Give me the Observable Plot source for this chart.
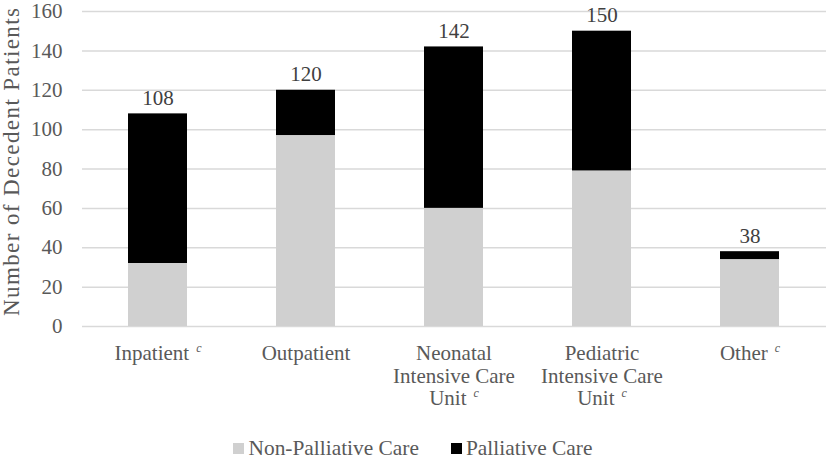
<!DOCTYPE html>
<html>
<head>
<meta charset="utf-8">
<script src="https://cdn.jsdelivr.net/npm/d3@7"></script>
<script src="https://cdn.jsdelivr.net/npm/@observablehq/plot@0.6"></script>
<style>
  html, body { margin: 0; padding: 0; background: #fff; }
  body { width: 826px; height: 459px; overflow: hidden; font-family: "Liberation Serif", "Times New Roman", serif; }
  #chart svg { display: block; }
  #legend { display: flex; justify-content: center; align-items: center; height: 21px; font-size: 21.4px; color: #595959; line-height: 21px; }
  .item { display: flex; align-items: center; }
  .sw { width: 11px; height: 11px; margin-right: 4px; }
</style>
</head>
<body>
<div id="chart"></div>
<div id="legend"></div>
<script>
const categories = ["Inpatient", "Outpatient", "Neonatal Intensive Care Unit", "Pediatric Intensive Care Unit", "Other"];
const categoryLabels = ["Inpatient", "Outpatient", "Neonatal\nIntensive Care\nUnit", "Pediatric\nIntensive Care\nUnit", "Other"];
const footnoteC = [true, false, true, true, true];
const seriesNames = ["Non-Palliative Care", "Palliative Care"];
const seriesColors = ["#d0d0d0", "#000000"];
const nonPalliative = [32, 97, 60, 79, 34];
const palliative = [76, 23, 82, 71, 4];
const totals = [108, 120, 142, 150, 38];
const yTicks = [0, 20, 40, 60, 80, 100, 120, 140, 160];
const yTitle = "Number of Decedent Patients";

const data = [];
seriesNames.forEach((s, si) => {
  const vals = si === 0 ? nonPalliative : palliative;
  categories.forEach((c, i) => data.push({category: c, series: s, value: vals[i]}));
});
const totalData = categories.map((c, i) => ({category: c, total: totals[i]}));
const labelOf = new Map(categories.map((c, i) => [c, categoryLabels[i]]));

const font = '"Liberation Serif", "Times New Roman", serif';
const chart = Plot.plot({
  width: 826,
  height: 438,
  marginLeft: 82,
  marginRight: 0,
  marginTop: 11,
  marginBottom: 112,
  style: {fontFamily: font, fontSize: "21px", color: "#595959", background: "#fff"},
  x: {domain: categories, paddingInner: 0.6, paddingOuter: 0.3, axis: null},
  y: {domain: [0, 160], axis: null},
  color: {domain: seriesNames, range: seriesColors},
  marks: [
    Plot.gridY(yTicks, {stroke: "#d9d9d9", strokeOpacity: 1, strokeWidth: 1.5}),
    Plot.barY(data, {x: "category", y: "value", fill: "series", order: seriesNames}),
    Plot.axisY({ticks: yTicks, tickSize: 0, tickPadding: 20, fontSize: 21, label: null, fill: "#595959"}),
    Plot.text(categories, {x: d => d, text: d => labelOf.get(d), frameAnchor: "bottom", lineAnchor: "top", dy: 18, lineHeight: 1.07, fontSize: 21, fill: "#595959"}),
    Plot.text(totalData, {x: "category", y: "total", text: d => String(d.total), lineAnchor: "bottom", dy: -9, fontSize: 21, fill: "#404040"}),
    Plot.text([yTitle], {frameAnchor: "left", textAnchor: "middle", text: d => d, rotate: -90, dx: -71, dy: -7, fontSize: 23, fill: "#595959"})
  ]
});
document.getElementById("chart").appendChild(chart);

// Title spacing to match the reference length
chart.querySelectorAll("text").forEach(t => {
  if (t.textContent === yTitle) {
    t.setAttribute("textLength", "308");
    t.setAttribute("lengthAdjust", "spacing");
  }
});

// Add italic superscript footnote "c" to the last line of marked category labels
const lastLines = new Set(categoryLabels.filter((l, i) => footnoteC[i]).map(l => l.split("\n").pop()));
chart.querySelectorAll("text").forEach(t => {
  const spans = t.querySelectorAll("tspan");
  const target = spans.length ? spans[spans.length - 1] : t;
  if (lastLines.has(target.textContent)) {
    const sup = document.createElementNS("http://www.w3.org/2000/svg", "tspan");
    sup.setAttribute("font-style", "italic");
    sup.setAttribute("font-size", "12");
    sup.setAttribute("dx", "7");
    sup.setAttribute("dy", "-8");
    sup.textContent = "c";
    target.appendChild(sup);
  }
});

const legend = document.getElementById("legend");
seriesNames.forEach((s, i) => {
  const item = document.createElement("div");
  item.className = "item";
  if (i > 0) item.style.marginLeft = "32px";
  const sw = document.createElement("div");
  sw.className = "sw";
  sw.style.background = seriesColors[i];
  const label = document.createElement("span");
  label.textContent = s;
  item.appendChild(sw);
  item.appendChild(label);
  legend.appendChild(item);
});
</script>
</body>
</html>
